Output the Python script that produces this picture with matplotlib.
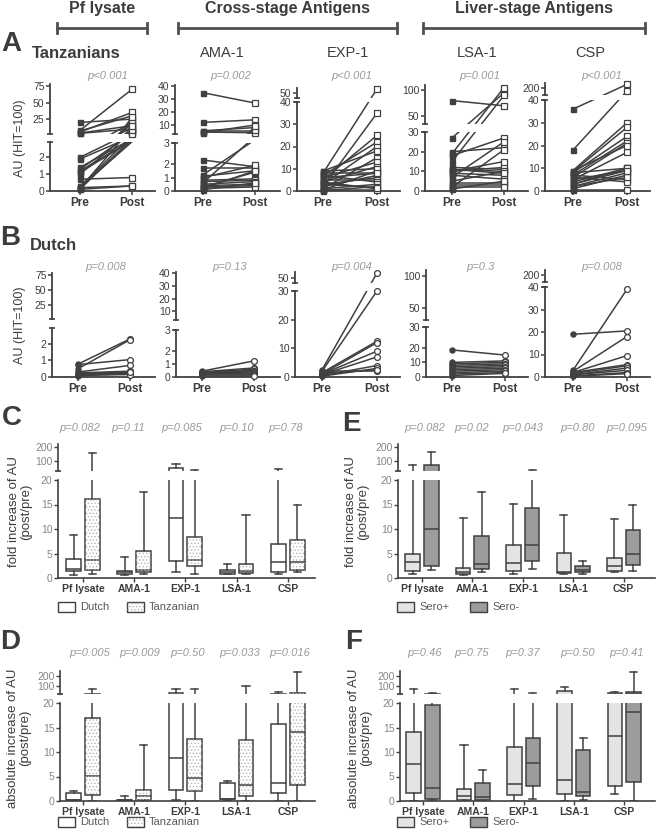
import numpy as np
import matplotlib
matplotlib.use('Agg')
import matplotlib.pyplot as plt
from matplotlib.lines import Line2D
from matplotlib.patches import Rectangle, PathPatch

plt.rcParams['font.family'] = ['Liberation Sans', 'DejaVu Sans']
plt.rcParams['hatch.linewidth'] = 0.6

# ---- data: paired pre/post antibody levels, AU (HIT=100) ----
tz_pf_pre = [20, 8, 7, 5.5, 4, 3.5, 2.0, 1.9, 1.4, 1.3, 1.2, 1.1, 1.0, 0.7, 0.3, 0.2, 0.2, 0.15, 0.1, 0.1, 0.25]
tz_pf_post = [25, 70, 30, 35, 15, 10, 20, 12, 8, 18, 6, 5, 22, 0.8, 4, 0.3, 3, 28, 9, 0.3, 14]
tz_ama_pre = [35, 12, 5.5, 5, 4.5, 4, 2.3, 1.7, 1.2, 1.1, 1.0, 0.8, 0.7, 0.6, 0.5, 0.4, 0.3, 0.3, 0.2, 0.2, 0.1]
tz_ama_post = [27, 14, 8, 5, 4, 10, 1.8, 1.7, 6, 1.5, 1.9, 0.9, 0.8, 9, 0.7, 0.5, 1.4, 0.4, 0.3, 1.5, 0.6]
tz_exp_pre = [8, 2, 5, 7, 3, 9, 1, 6, 4, 0.5, 8, 2, 3, 5, 7, 1, 0.2, 9, 4, 6, 0.5, 3]
tz_exp_post = [55, 35, 25, 22, 20, 18, 15, 13, 11, 9, 8, 7, 6, 5, 4, 3, 2, 10, 1, 8, 0.5, 1.5]
tz_lsa_pre = [80, 27, 20, 19, 18, 15, 12, 11, 10, 10, 9, 8, 7, 5, 4, 3, 2, 2, 1, 11]
tz_lsa_post = [70, 95, 22, 105, 27, 90, 11, 10, 12, 15, 8, 6, 25, 10, 4, 3, 2, 21, 5, 9]
tz_csp_pre = [36, 18, 9, 8.5, 8, 7, 6, 5, 4, 3, 2, 1, 0.5, 8, 7, 6, 9, 3, 2, 5]
tz_csp_post = [230, 180, 30, 28, 24, 22, 21, 17, 10, 9, 8, 7, 0.5, 10, 5, 4, 20, 10, 6, 9]

nl_pf_pre = [0.78, 0.75, 0.5, 0.3, 0.25, 0.2, 0.15, 0.1, 0.1, 0.05]
nl_pf_post = [2.3, 1.05, 2.25, 0.7, 0.35, 0.3, 0.25, 0.2, 0.15, 0.3]
nl_ama_pre = [0.45, 0.4, 0.38, 0.35, 0.3, 0.3, 0.25, 0.2, 0.15, 0.1]
nl_ama_post = [1.25, 0.7, 0.6, 0.5, 0.45, 0.4, 0.3, 0.2, 0.15, 0.1]
nl_exp_pre = [2.5, 2, 1.5, 1, 1, 0.8, 0.5, 0.3, 2, 1.2]
nl_exp_post = [55, 30, 12.5, 12, 9, 7, 4, 3, 2, 2.5]
nl_lsa_pre = [18.5, 10, 9, 8, 7, 6, 5, 4, 3, 2, 1]
nl_lsa_post = [15, 11, 10, 9, 8, 7, 6, 5, 4, 3, 2.5]
nl_csp_pre = [19, 3, 2.5, 2, 2, 1.5, 1, 1, 0.5, 0.3]
nl_csp_post = [20.5, 39, 18, 9.5, 5.5, 5, 4, 3, 2, 1.5]

p_tz = ['p<0.001', 'p=0.002', 'p<0.001', 'p=0.001', 'p<0.001']
p_nl = ['p=0.008', 'p=0.13', 'p=0.004', 'p=0.3', 'p=0.008']

# ---- data: box stats (whisker low, q1, median, q3, whisker high) ----
antigens = ['Pf lysate', 'AMA-1', 'EXP-1', 'LSA-1', 'CSP']
fold_dutch = [(0.7, 1.4, 1.8, 3.8, 8.8), (0.7, 0.9, 1.2, 1.5, 4.3), (1.2, 3.4, 12.2, 50, 80),
              (0.8, 0.9, 1.2, 1.7, 2.9), (0.8, 1.2, 3.2, 6.9, 43)]
fold_tanz = [(0.9, 1.7, 3.6, 16.2, 160), (0.9, 1.2, 1.7, 5.6, 17.6), (0.8, 2.4, 3.6, 8.3, 36),
             (0.9, 1.1, 1.5, 2.9, 12.8), (1.2, 1.6, 3.2, 7.8, 15.0)]
fold_pos = [(0.9, 1.5, 3.3, 5.0, 72), (0.7, 0.9, 1.2, 2.0, 12.2), (0.8, 1.5, 3.0, 6.8, 15.2),
            (0.9, 1.0, 1.2, 5.2, 12.8), (1.3, 1.5, 2.5, 4.1, 12.1)]
fold_neg = [(1.6, 2.4, 9.9, 72, 165), (1.2, 1.8, 2.9, 8.6, 17.5), (1.9, 3.5, 6.8, 14.2, 36),
            (0.9, 1.2, 1.7, 2.4, 3.5), (1.5, 2.6, 5.0, 9.7, 15.0)]
abs_dutch = [(0.1, 0.2, 0.3, 1.7, 2.0), (0.0, 0.1, 0.2, 0.3, 1.0), (0.3, 2.2, 8.8, 35, 70),
             (0.0, 0.4, 0.5, 3.7, 4.1), (0.0, 1.7, 3.6, 15.7, 40)]
abs_tanz = [(0.1, 1.2, 5.2, 16.9, 70), (0.0, 0.2, 1.0, 2.3, 11.5), (0.0, 2.0, 4.7, 12.7, 70),
            (0.0, 1.0, 3.3, 12.4, 100), (0.0, 3.2, 14.0, 32, 240)]
abs_pos = [(0.0, 1.6, 7.6, 14.0, 70), (0.0, 0.3, 1.0, 2.5, 11.5), (0.0, 1.2, 3.4, 11.1, 70),
           (0.0, 1.4, 4.3, 50, 90), (1.5, 3.1, 13.3, 28, 40)]
abs_neg = [(0.2, 0.4, 2.6, 19.5, 30), (0.0, 0.2, 0.9, 3.6, 6.4), (0.5, 3.1, 7.8, 12.9, 30),
           (0.2, 1.0, 1.8, 10.5, 12.9), (0.0, 3.9, 18.1, 40, 240)]

p_C = ['p=0.082', 'p=0.11', 'p=0.085', 'p=0.10', 'p=0.78']
p_E = ['p=0.082', 'p=0.02', 'p=0.043', 'p=0.80', 'p=0.095']
p_D = ['p=0.005', 'p=0.009', 'p=0.50', 'p=0.033', 'p=0.016']
p_F = ['p=0.46', 'p=0.75', 'p=0.37', 'p=0.50', 'p=0.41']

W, H = 660, 835
DARK = '#3c3c3c'
LINE = '#404040'
PGRAY = '#9a9a9a'

fig = plt.figure(figsize=(W / 100, H / 100), dpi=100)


def rect(x0, y0, x1, y1):
    return [x0 / W, 1 - y1 / H, (x1 - x0) / W, (y1 - y0) / H]


def txt(x, y, s, **kw):
    kw.setdefault('ha', 'center')
    kw.setdefault('va', 'center')
    fig.text(x / W, 1 - y / H, s, **kw)


def breakbar(ax, where, width_px):
    f = 3.0 / width_px
    ax.plot([-f, f], [where, where], transform=ax.transAxes, color=LINE,
            lw=1.2, clip_on=False, solid_capstyle='butt')


def broken_scale(segs):
    # piecewise-linear map value -> pixel height, shared by all segments of a panel,
    # so that connecting lines stay straight across the axis break
    pts = []
    for t, b, lo, hi, _ in segs:
        pts += [(lo, H - b), (hi, H - t)]
    pts.sort()
    v = [p[0] for p in pts]
    q = [p[1] for p in pts]
    s0 = (q[1] - q[0]) / (v[1] - v[0])
    s1 = (q[-1] - q[-2]) / (v[-1] - v[-2])
    v = [v[0] - 1e4] + v + [v[-1] + 1e4]
    q = [q[0] - 1e4 * s0] + q + [q[-1] + 1e4 * s1]
    v, q = np.array(v), np.array(q)
    return (lambda x: np.interp(x, v, q), lambda y: np.interp(y, q, v))


def paired(xspec, segs, pre, post, mk, ptxt, py):
    xs, xr, x0, x1 = xspec
    sc = x1 - x0
    fwd, inv = broken_scale(segs)
    for k, (t, b, lo, hi, ticks) in enumerate(segs):
        ax = fig.add_axes(rect(xs, t, xr, b))
        ax.patch.set_visible(False)
        ax.set_yscale('function', functions=(fwd, inv))
        ax.set_xlim((xs - x0) / sc, 1 + (xr - x1) / sc)
        ax.set_ylim(lo, hi)
        for a, c in zip(pre, post):
            if max(a, c) >= lo and min(a, c) <= hi:
                ax.plot([0, 1], [a, c], color=LINE, lw=1.1, zorder=2)
        pin = [v for v in pre if lo <= v <= hi]
        qin = [v for v in post if lo <= v <= hi]
        ax.plot(np.zeros(len(pin)), pin, ls='none', marker=mk, ms=3.6,
                mfc=LINE, mec=LINE, clip_on=False, zorder=3)
        ax.plot(np.ones(len(qin)), qin, ls='none', marker=mk, ms=4.2,
                mfc='white', mec=LINE, mew=0.9, clip_on=False, zorder=3)
        for s in ['top', 'right']:
            ax.spines[s].set_visible(False)
        ax.spines['left'].set_color(LINE)
        ax.spines['left'].set_linewidth(1.3)
        ax.set_yticks(ticks)
        ax.set_yticklabels([str(v) for v in ticks])
        ax.minorticks_off()
        ax.tick_params(axis='y', length=3, width=1.1, color=LINE, labelcolor=DARK,
                       labelsize=7.5, pad=1)
        if k == len(segs) - 1:
            ax.spines['bottom'].set_color(LINE)
            ax.spines['bottom'].set_linewidth(1.3)
            ax.set_xticks([0, 1])
            ax.set_xticklabels(['Pre', 'Post'], fontweight='bold', fontsize=8.5, color=DARK)
            ax.tick_params(axis='x', length=3, width=1.1, color=LINE, pad=1.5)
        else:
            ax.spines['bottom'].set_visible(False)
            ax.set_xticks([])
            breakbar(ax, 0, xr - xs)
        if k > 0:
            breakbar(ax, 1, xr - xs)
    txt((x0 + x1) / 2 + 2, py, ptxt, style='italic', color=PGRAY, fontsize=8)


def styled_box(ax, stats, pos, fc, hatch):
    bx = [dict(whislo=s[0], q1=s[1], med=s[2], q3=s[3], whishi=s[4]) for s in stats]
    res = ax.bxp(bx, positions=pos, widths=0.29, capwidths=0.14, showfliers=False,
                 patch_artist=True, manage_ticks=False,
                 boxprops=dict(facecolor=fc, edgecolor=LINE, lw=1.1),
                 medianprops=dict(color=LINE, lw=1.1),
                 whiskerprops=dict(color=LINE, lw=1.1),
                 capprops=dict(color=LINE, lw=1.1))
    if hatch:
        for p in res['boxes']:
            ax.add_patch(PathPatch(p.get_path(), facecolor='none', edgecolor='#b5b5b5',
                                   hatch='.....', lw=0, zorder=2.5))


def boxpanel(xs, xr, c0, dc, up, low, s1, s2, fc1, fc2, hatch2, pv, pvx, pvy):
    pos = np.arange(len(antigens))
    for k, (t, b, lo, hi, ticks) in enumerate([up, low]):
        ax = fig.add_axes(rect(xs, t, xr, b))
        ax.patch.set_visible(False)
        styled_box(ax, s1, pos - 0.185, fc1, False)
        styled_box(ax, s2, pos + 0.185, fc2, hatch2)
        ax.set_xlim((xs - c0) / dc, (xr - c0) / dc)
        ax.set_ylim(lo, hi)
        for s in ['top', 'right']:
            ax.spines[s].set_visible(False)
        ax.spines['left'].set_color(LINE)
        ax.spines['left'].set_linewidth(1.2)
        ax.set_yticks(ticks)
        ax.tick_params(axis='y', length=3, width=1.0, color=LINE, labelcolor='#858585',
                       labelsize=7.5, pad=1)
        if k == 1:
            ax.spines['bottom'].set_color(LINE)
            ax.spines['bottom'].set_linewidth(1.2)
            ax.set_xticks(pos)
            ax.set_xticklabels(antigens, fontweight='bold', fontsize=7.5, color=DARK)
            ax.tick_params(axis='x', length=3, width=1.0, color=LINE, pad=1.5)
        else:
            ax.spines['bottom'].set_visible(False)
            ax.set_xticks([])
            breakbar(ax, 0, xr - xs)
    for x, s in zip(pvx, pv):
        txt(x, pvy, s, style='italic', color=PGRAY, fontsize=8)


def legend_row(y, items):
    for x, lab, fc, hatch in items:
        r = Rectangle((x / W, 1 - (y + 5) / H), 17 / W, 10 / H, transform=fig.transFigure,
                      facecolor=fc, edgecolor=LINE, lw=1.0)
        fig.patches.append(r)
        if hatch:
            fig.patches.append(Rectangle((x / W, 1 - (y + 5) / H), 17 / W, 10 / H,
                                         transform=fig.transFigure, facecolor='none',
                                         edgecolor='#b5b5b5', hatch='.....', lw=0))
        txt(x + 22, y, lab, ha='left', color='#5a5a5a', fontsize=8)


# ---- headers ----
for lab, x0, x1 in [('Pf lysate', 57, 147), ('Cross-stage Antigens', 178, 397),
                    ('Liver-stage Antigens', 423, 645)]:
    txt((x0 + x1) / 2, 8, lab, fontweight='bold', fontsize=11.5, color=DARK)
    fig.add_artist(Line2D([x0 / W, x1 / W], [1 - 28 / H] * 2, transform=fig.transFigure,
                          color='#505050', lw=2))
    for xx in (x0, x1):
        fig.add_artist(Line2D([xx / W] * 2, [1 - 23 / H, 1 - 33 / H],
                              transform=fig.transFigure, color='#505050', lw=2))

# ---- panel A ----
txt(11, 44, 'A', fontweight='bold', fontsize=20, color=DARK)
txt(76, 53, 'Tanzanians', fontweight='bold', fontsize=12, color=DARK)
for x, s in [(222, 'AMA-1'), (348, 'EXP-1'), (477, 'LSA-1'), (590, 'CSP')]:
    txt(x, 53, s, fontsize=10.5, color=DARK)
txt(20, 138, 'AU (HIT=100)', rotation=90, fontsize=9, color=DARK)

segA = [
    [(84, 134, 2.5, 78, [25, 50, 75]), (142, 191, 0, 2.5, [0, 1, 2])],
    [(85, 134, 3, 41, [10, 20, 30, 40]), (143, 191, 0, 3, [0, 1, 2, 3])],
    [(88, 98, 45, 56, [50]), (102, 191, 0, 40, [0, 10, 20, 30, 40])],
    [(85, 124, 35, 110, [50, 100]), (132, 191, 0, 30, [0, 10, 20, 30])],
    [(83, 95, 150, 240, [200]), (100, 191, 0, 40, [0, 10, 20, 30, 40])],
]
xA = [(50, 155, 80, 132), (175, 280, 203, 255), (297, 400, 323, 377),
      (425, 528, 452, 504), (545, 650, 573, 627)]
tz_pre = [tz_pf_pre, tz_ama_pre, tz_exp_pre, tz_lsa_pre, tz_csp_pre]
tz_post = [tz_pf_post, tz_ama_post, tz_exp_post, tz_lsa_post, tz_csp_post]
for i in range(5):
    paired(xA[i], segA[i], tz_pre[i], tz_post[i], 's', p_tz[i], 76)

# ---- panel B ----
txt(10, 238, 'B', fontweight='bold', fontsize=20, color=DARK)
txt(53, 245, 'Dutch', fontweight='bold', fontsize=12, color=DARK)
txt(20, 325, 'AU (HIT=100)', rotation=90, fontsize=9, color=DARK)
segB = [
    [(273, 319, 2.5, 78, [25, 50, 75]), (328, 377, 0, 2.5, [0, 1, 2])],
    [(272, 320, 3, 41, [10, 20, 30, 40]), (330, 377, 0, 3, [0, 1, 2, 3])],
    [(272, 283, 45, 56, [50]), (291, 377, 0, 30, [0, 10, 20, 30])],
    [(270, 320, 30, 110, [50, 100]), (327, 377, 0, 30, [0, 10, 20, 30])],
    [(270, 282, 150, 240, [200]), (287, 377, 0, 40, [0, 10, 20, 30, 40])],
]
xB = [(52, 155, 78, 130), (176, 280, 202, 254), (295, 400, 322, 377),
      (426, 528, 452, 505), (545, 650, 573, 627)]
nl_pre = [nl_pf_pre, nl_ama_pre, nl_exp_pre, nl_lsa_pre, nl_csp_pre]
nl_post = [nl_pf_post, nl_ama_post, nl_exp_post, nl_lsa_post, nl_csp_post]
for i in range(5):
    paired(xB[i], segB[i], nl_pre[i], nl_post[i], 'o', p_nl[i], 267)

# ---- panels C / E (fold increase) ----
upC = (444, 471, 29, 221, [100, 200])
loC = (480, 578, 0, 20, [0, 5, 10, 15, 20])
txt(12, 418, 'C', fontweight='bold', fontsize=20, color=DARK)
txt(20, 512, 'fold increase of AU\n(post/pre)', rotation=90, fontsize=9.5, color=DARK,
    linespacing=1.1)
boxpanel(58, 315, 83, 51.2, upC, loC, fold_dutch, fold_tanz, 'white', 'white', True,
         p_C, [80, 128, 182, 237, 286], 428)
legend_row(607, [(58, 'Dutch', 'white', False), (127, 'Tanzanian', 'white', True)])

txt(351, 424, 'E', fontweight='bold', fontsize=20, color=DARK)
txt(357, 512, 'fold increase of AU\n(post/pre)', rotation=90, fontsize=9.5, color=DARK,
    linespacing=1.1)
boxpanel(398, 655, 422, 50.4, upC, loC, fold_pos, fold_neg, '#e4e4e4', '#9c9c9c', False,
         p_E, [425, 472, 523, 578, 627], 428)
legend_row(607, [(397, 'Sero+', '#e4e4e4', False), (470, 'Sero-', '#9c9c9c', False)])

# ---- panels D / F (absolute increase) ----
upD = (671, 694, 20, 250, [100, 200])
loD = (703, 801, 0, 20, [0, 5, 10, 15, 20])
txt(10, 642, 'D', fontweight='bold', fontsize=20, color=DARK)
txt(19, 738, 'absolute increase of AU\n(post/pre)', rotation=90, fontsize=9.5, color=DARK,
    linespacing=1.1)
boxpanel(60, 315, 83, 51.2, upD, loD, abs_dutch, abs_tanz, 'white', 'white', True,
         p_D, [90, 140, 188, 240, 290], 653)
legend_row(822, [(58, 'Dutch', 'white', False), (127, 'Tanzanian', 'white', True)])

txt(354, 642, 'F', fontweight='bold', fontsize=20, color=DARK)
txt(360, 738, 'absolute increase of AU\n(post/pre)', rotation=90, fontsize=9.5, color=DARK,
    linespacing=1.1)
boxpanel(400, 655, 423, 50.3, upD, loD, abs_pos, abs_neg, '#e4e4e4', '#9c9c9c', False,
         p_F, [425, 472, 523, 578, 627], 653)
legend_row(822, [(397, 'Sero+', '#e4e4e4', False), (470, 'Sero-', '#9c9c9c', False)])

fig.savefig('out.png', dpi=100)
